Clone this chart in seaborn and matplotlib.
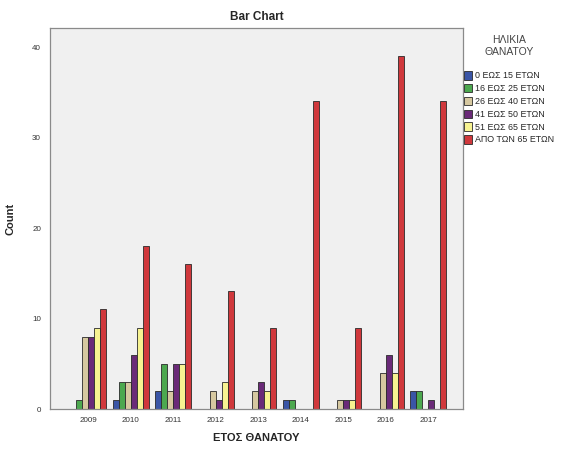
import pandas as pd
import matplotlib
matplotlib.use("Agg")
import matplotlib.pyplot as plt
import seaborn as sns

# data
years = ["2009", "2010", "2011", "2012", "2013", "2014", "2015", "2016", "2017"]
age_groups = ["0 ΕΩΣ 15 ΕΤΩΝ", "16 ΕΩΣ 25 ΕΤΩΝ", "26 ΕΩΣ 40 ΕΤΩΝ",
              "41 ΕΩΣ 50 ΕΤΩΝ", "51 ΕΩΣ 65 ΕΤΩΝ", "ΑΠΟ ΤΩΝ 65 ΕΤΩΝ"]
age_0_15 = [0, 1, 2, 0, 0, 1, 0, 0, 2]
age_16_25 = [1, 3, 5, 0, 0, 1, 0, 0, 2]
age_26_40 = [8, 3, 2, 2, 2, 0, 1, 4, 0]
age_41_50 = [8, 6, 5, 1, 3, 0, 1, 6, 1]
age_51_65 = [9, 9, 5, 3, 2, 0, 1, 4, 0]
age_65_up = [11, 18, 16, 13, 9, 34, 9, 39, 34]
colors = ["#3a55a6", "#4ca84f", "#d6c8a0", "#6a2a78", "#f7f391", "#d0383c"]

series = [age_0_15, age_16_25, age_26_40, age_41_50, age_51_65, age_65_up]
rows = []
for grp, vals in zip(age_groups, series):
    for yr, v in zip(years, vals):
        if v > 0:
            rows.append({"year": yr, "age": grp, "count": v})
df = pd.DataFrame(rows)

sns.set_style("white")
plt.rcParams["font.family"] = ["Arial", "Liberation Sans", "DejaVu Sans"]

fig = plt.figure(figsize=(5.73, 4.55), dpi=100)
ax = fig.add_axes([50 / 573, 1 - 409 / 455, 413 / 573, 381 / 455])
ax.set_facecolor("#f0f0f0")

sns.barplot(data=df, x="year", y="count", hue="age", order=years,
            hue_order=age_groups, palette=colors, width=0.85,
            edgecolor="#2a2a2a", linewidth=0.6, saturation=1, ax=ax)

ax.set_xlim(-0.9, 8.82)
ax.set_ylim(0, 42.1)
ax.set_yticks([0, 10, 20, 30, 40])
ax.tick_params(axis="both", labelsize=5.8, length=3, width=0.7,
               colors="#333333", direction="out")
ax.tick_params(axis="x", pad=3)
for s in ax.spines.values():
    s.set_color("#8a8a8a")
    s.set_linewidth(0.9)

ax.set_title("Bar Chart", fontsize=8.5, fontweight="bold", pad=6)
ax.set_xlabel("ΕΤΟΣ ΘΑΝΑΤΟΥ", fontsize=8, fontweight="bold", labelpad=6)
ax.set_ylabel("Count", fontsize=8, fontweight="bold", labelpad=12)

leg = ax.legend(title="ΗΛΙΚΙΑ\nΘΑΝΑΤΟΥ", loc="upper left",
                bbox_to_anchor=(0.998, 0.985), frameon=False,
                fontsize=6.4, title_fontsize=7.5, handlelength=0.9,
                handleheight=1.1, handletextpad=0.3, labelspacing=0.4,
                borderaxespad=0.0, borderpad=0.2)
leg.get_title().set_multialignment("center")
leg.get_title().set_color("#444444")
leg._legend_box.align = "center"
leg._legend_box.sep = 10

fig.savefig("out.png", dpi=100, facecolor="white")
